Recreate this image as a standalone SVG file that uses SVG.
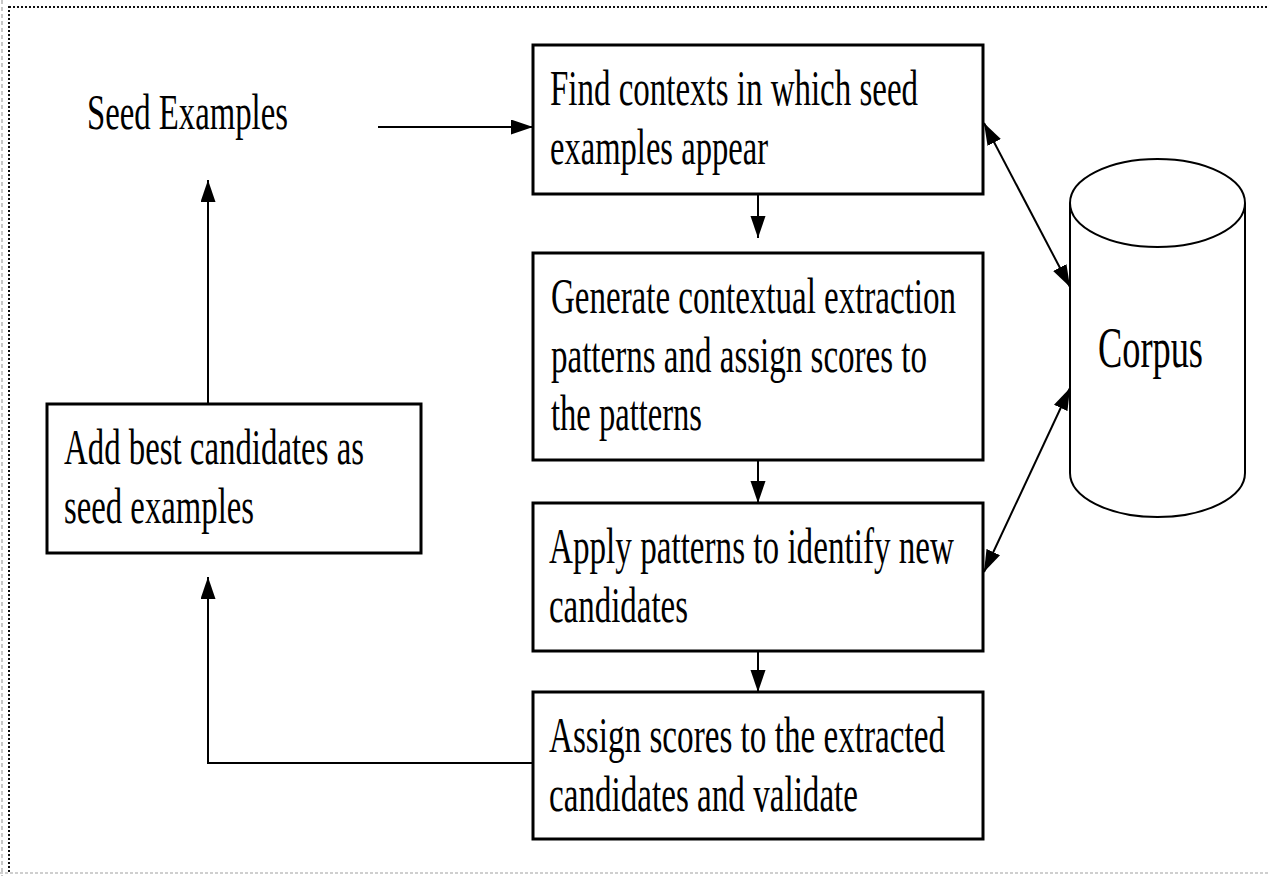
<svg xmlns="http://www.w3.org/2000/svg" width="1268" height="876" viewBox="0 0 1268 876">
  <style>
    .box { fill: #ffffff; stroke: #000000; stroke-width: 3; }
    .lbl { font-family: "Liberation Serif", "Times New Roman", serif; font-size: 51px; fill: #000000; }
    .big { font-size: 57px; }
    .conn { fill: none; stroke: #000000; stroke-width: 2; }
    .cyl { fill: #ffffff; stroke: #000000; stroke-width: 2; }
    .dots { stroke: #111111; stroke-width: 2; stroke-dasharray: 2 2; }
  </style>
  <defs>
    <marker id="arrow" markerUnits="userSpaceOnUse" markerWidth="24" markerHeight="16" refX="22" refY="7.5" orient="auto-start-reverse">
      <path d="M0,0 L22,7.5 L0,15 Z" fill="#000000"/>
    </marker>
  </defs>

  <rect x="0" y="0" width="1268" height="876" fill="#ffffff"/>

  <!-- page frame -->
  <g id="frame">
    <line x1="2" y1="0" x2="2" y2="876" stroke="#c8c8c8" stroke-width="2" stroke-dasharray="4 3"/>
    <line x1="0" y1="873" x2="1268" y2="873" stroke="#c0c0c0" stroke-width="1.5" stroke-dasharray="3 2"/>
    <line class="dots" x1="9" y1="7" x2="1268" y2="7"/>
    <line class="dots" x1="9" y1="6" x2="9" y2="873"/>
  </g>

  <!-- connectors -->
  <g id="connectors">
    <line class="conn" x1="378" y1="127" x2="533" y2="127" marker-end="url(#arrow)"/>
    <line class="conn" x1="758" y1="194" x2="758" y2="238" marker-end="url(#arrow)"/>
    <line class="conn" x1="758" y1="460" x2="758" y2="503" marker-end="url(#arrow)"/>
    <line class="conn" x1="758" y1="651" x2="758" y2="692" marker-end="url(#arrow)"/>
    <polyline class="conn" points="533,763 208,763 208,577" marker-end="url(#arrow)"/>
    <line class="conn" x1="208" y1="404" x2="208" y2="180" marker-end="url(#arrow)"/>
    <line class="conn" x1="984" y1="123" x2="1070" y2="287" marker-start="url(#arrow)" marker-end="url(#arrow)"/>
    <line class="conn" x1="1070" y1="388" x2="984" y2="572" marker-start="url(#arrow)" marker-end="url(#arrow)"/>
  </g>

  <!-- seed label -->
  <g id="seed-examples">
    <text class="lbl" x="87" y="129" textLength="201" lengthAdjust="spacingAndGlyphs">Seed Examples</text>
  </g>

  <g id="find-contexts">
    <rect class="box" x="533" y="45" width="450" height="149"/>
    <text class="lbl" x="550" y="105" textLength="368" lengthAdjust="spacingAndGlyphs">Find contexts in which seed</text>
    <text class="lbl" x="550" y="164" textLength="218" lengthAdjust="spacingAndGlyphs">examples appear</text>
  </g>

  <g id="generate-patterns">
    <rect class="box" x="533" y="253" width="450" height="207"/>
    <text class="lbl" x="551" y="313" textLength="405" lengthAdjust="spacingAndGlyphs">Generate contextual extraction</text>
    <text class="lbl" x="551" y="372" textLength="376" lengthAdjust="spacingAndGlyphs">patterns and assign scores to</text>
    <text class="lbl" x="551" y="430" textLength="151" lengthAdjust="spacingAndGlyphs">the patterns</text>
  </g>

  <g id="apply-patterns">
    <rect class="box" x="533" y="503" width="450" height="148"/>
    <text class="lbl" x="549" y="563" textLength="405" lengthAdjust="spacingAndGlyphs">Apply patterns to identify new</text>
    <text class="lbl" x="549" y="622" textLength="139" lengthAdjust="spacingAndGlyphs">candidates</text>
  </g>

  <g id="assign-scores">
    <rect class="box" x="533" y="692" width="450" height="147"/>
    <text class="lbl" x="549" y="752" textLength="396" lengthAdjust="spacingAndGlyphs">Assign scores to the extracted</text>
    <text class="lbl" x="549" y="811" textLength="309" lengthAdjust="spacingAndGlyphs">candidates and validate</text>
  </g>

  <g id="add-candidates">
    <rect class="box" x="47" y="404" width="374" height="149"/>
    <text class="lbl" x="64" y="464" textLength="300" lengthAdjust="spacingAndGlyphs">Add best candidates as</text>
    <text class="lbl" x="64" y="523" textLength="190" lengthAdjust="spacingAndGlyphs">seed examples</text>
  </g>

  <g id="corpus">
    <path class="cyl" d="M1070,203 L1070,473 A87.5,44 0 0 0 1245,473 L1245,203 A87.5,44 0 0 0 1070,203 Z"/>
    <path class="cyl" d="M1070,203 A87.5,44 0 0 0 1245,203"/>
    <text class="lbl big" x="1098" y="367" textLength="105" lengthAdjust="spacingAndGlyphs">Corpus</text>
  </g>
</svg>
